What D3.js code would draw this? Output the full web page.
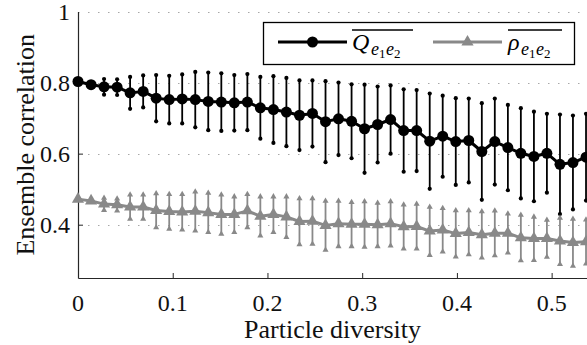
<!DOCTYPE html>
<html>
<head>
<meta charset="utf-8">
<script src="https://cdn.jsdelivr.net/npm/d3@7"></script>
<style>
  body { margin: 0; background: #fff; }
  svg { display: block; }
</style>
</head>
<body>
<svg id="chart" width="587" height="345"></svg>
<script>
// particle diversity values (x)
const diversity = [0, 0.0138, 0.0275, 0.0413, 0.055, 0.0688, 0.0825, 0.0963, 0.11, 0.1238,
  0.1375, 0.1513, 0.165, 0.1788, 0.1925, 0.2063, 0.22, 0.2338, 0.2475, 0.2613,
  0.275, 0.2888, 0.3025, 0.3163, 0.33, 0.3438, 0.3575, 0.3713, 0.385, 0.3988,
  0.4125, 0.4263, 0.44, 0.4538, 0.4675, 0.4813, 0.495, 0.5088, 0.5225, 0.5363];

// Q_e1e2 mean and error half-width
const qMean = [0.803, 0.794, 0.788, 0.787, 0.771, 0.775, 0.756, 0.752, 0.754, 0.752,
  0.747, 0.745, 0.743, 0.745, 0.729, 0.724, 0.717, 0.708, 0.713, 0.690,
  0.698, 0.691, 0.670, 0.682, 0.696, 0.665, 0.665, 0.635, 0.649, 0.634,
  0.637, 0.606, 0.634, 0.617, 0.601, 0.592, 0.601, 0.570, 0.575, 0.590];
const qErr = [0.0, 0.002, 0.022, 0.022, 0.045, 0.045, 0.065, 0.067, 0.069, 0.078,
  0.081, 0.081, 0.078, 0.079, 0.087, 0.094, 0.096, 0.098, 0.093, 0.114,
  0.102, 0.104, 0.124, 0.107, 0.096, 0.116, 0.114, 0.134, 0.114, 0.122,
  0.118, 0.136, 0.121, 0.120, 0.127, 0.126, 0.111, 0.140, 0.132, 0.122];

// rho_e1e2 mean and error half-width
const rhoMean = [0.472, 0.467, 0.458, 0.456, 0.450, 0.450, 0.440, 0.437, 0.436, 0.438,
  0.434, 0.429, 0.429, 0.439, 0.424, 0.429, 0.422, 0.409, 0.410, 0.398,
  0.403, 0.401, 0.401, 0.400, 0.403, 0.394, 0.395, 0.382, 0.385, 0.375,
  0.378, 0.372, 0.376, 0.376, 0.363, 0.361, 0.361, 0.354, 0.350, 0.352];
const rhoErr = [0.0, 0.003, 0.017, 0.017, 0.034, 0.034, 0.048, 0.049, 0.050, 0.055,
  0.055, 0.055, 0.050, 0.047, 0.055, 0.050, 0.057, 0.065, 0.064, 0.069,
  0.064, 0.062, 0.064, 0.061, 0.062, 0.062, 0.063, 0.068, 0.061, 0.065,
  0.062, 0.065, 0.063, 0.055, 0.064, 0.061, 0.052, 0.065, 0.066, 0.062];

const xTicks = [0, 0.1, 0.2, 0.3, 0.4, 0.5];
const xTickLabels = ["0", "0.1", "0.2", "0.3", "0.4", "0.5"];
const yTicks = [0.4, 0.6, 0.8, 1];
const yTickLabels = ["0.4", "0.6", "0.8", "1"];
const xLabel = "Particle diversity";
const yLabel = "Ensemble correlation";

const svg = d3.select("#chart");
const serif = "Liberation Serif";
const margin = { left: 78, top: 11.5, bottom: 67 };
const height = 345;

const x = d3.scaleLinear().domain([0, 0.55]).range([margin.left, margin.left + 521]);
const y = d3.scaleLinear().domain([0.25, 1]).range([height - margin.bottom, margin.top]);

const grey = "#898989";
const tickFont = 24;
const titleFont = 26;

// dotted grid
svg.append("g")
  .selectAll("line")
  .data(yTicks)
  .join("line")
  .attr("x1", margin.left)
  .attr("x2", 587)
  .attr("y1", d => Math.round(y(d)) + 0.5)
  .attr("y2", d => Math.round(y(d)) + 0.5)
  .attr("stroke", "#a8a8a8")
  .attr("stroke-width", 1)
  .attr("stroke-dasharray", "1.5 8.5");

// axes (lines and ticks only; labels drawn as plain texts below)
const xAxis = svg.append("g")
  .attr("transform", `translate(0,${y(0.25)})`)
  .call(d3.axisBottom(x).tickValues(xTicks).tickSizeInner(-5).tickSizeOuter(0).tickFormat(""));
const yAxis = svg.append("g")
  .attr("transform", `translate(${margin.left},0)`)
  .call(d3.axisLeft(y).tickValues(yTicks.filter(d => d < 1)).tickSizeInner(-5).tickSizeOuter(0).tickFormat(""));

[xAxis, yAxis].forEach(g => {
  g.select(".domain").attr("stroke", "#262626").attr("stroke-width", 1.2);
  g.selectAll(".tick line").attr("stroke", "#262626");
  g.selectAll(".tick text").remove();
});

// tick labels
xTicks.forEach((d, i) => {
  svg.append("text")
    .attr("x", x(d))
    .attr("y", 311)
    .attr("text-anchor", "middle")
    .attr("font-family", serif)
    .attr("font-size", tickFont)
    .attr("fill", "#111")
    .text(xTickLabels[i]);
});
yTicks.forEach((d, i) => {
  svg.append("text")
    .attr("x", 70)
    .attr("y", y(d) + 8)
    .attr("text-anchor", "end")
    .attr("font-family", serif)
    .attr("font-size", tickFont)
    .attr("fill", "#111")
    .text(yTickLabels[i]);
});

// axis titles
svg.append("text")
  .attr("x", (margin.left + 587) / 2)
  .attr("y", 338)
  .attr("text-anchor", "middle")
  .attr("font-family", serif)
  .attr("font-size", titleFont)
  .attr("fill", "#111")
  .text(xLabel);

svg.append("text")
  .attr("transform", `translate(34,${(y(0.25) + y(1)) / 2}) rotate(-90)`)
  .attr("text-anchor", "middle")
  .attr("font-family", serif)
  .attr("font-size", titleFont)
  .attr("fill", "#111")
  .text(yLabel);

// series
const series = [
  { mean: qMean, err: qErr, colour: "#000", marker: "circle" },
  { mean: rhoMean, err: rhoErr, colour: grey, marker: "triangle" }
];

const triangle = (size) => d3.symbol().type(d3.symbolTriangle).size(size)();

series.forEach(s => {
  const data = diversity.map((d, i) => ({ x: d, m: s.mean[i], e: s.err[i] }));
  const g = svg.append("g");

  // error bars
  g.selectAll(".bar")
    .data(data.filter(d => d.e > 0.004))
    .join("line")
    .attr("x1", d => x(d.x))
    .attr("x2", d => x(d.x))
    .attr("y1", d => y(d.m - d.e))
    .attr("y2", d => y(d.m + d.e))
    .attr("stroke", s.colour)
    .attr("stroke-width", 1.8);

  const ends = data.filter(d => d.e > 0.004).flatMap(d => [
    { x: d.x, v: d.m - d.e }, { x: d.x, v: d.m + d.e }
  ]);
  if (s.marker === "circle") {
    g.selectAll(".cap")
      .data(ends)
      .join("circle")
      .attr("cx", d => x(d.x))
      .attr("cy", d => y(d.v))
      .attr("r", 2.1)
      .attr("fill", s.colour);
  } else {
    g.selectAll(".cap")
      .data(ends)
      .join("path")
      .attr("transform", d => `translate(${x(d.x)},${y(d.v)})`)
      .attr("d", triangle(16))
      .attr("fill", s.colour);
  }

  // mean line
  g.append("path")
    .datum(data)
    .attr("fill", "none")
    .attr("stroke", s.colour)
    .attr("stroke-width", 3)
    .attr("stroke-linejoin", "round")
    .attr("d", d3.line().x(d => x(d.x)).y(d => y(d.m)));

  // markers
  if (s.marker === "circle") {
    g.selectAll(".pt")
      .data(data)
      .join("circle")
      .attr("cx", d => x(d.x))
      .attr("cy", d => y(d.m))
      .attr("r", 5.5)
      .attr("fill", s.colour);
  } else {
    g.selectAll(".pt")
      .data(data)
      .join("path")
      .attr("transform", d => `translate(${x(d.x)},${y(d.m)})`)
      .attr("d", triangle(64))
      .attr("fill", s.colour);
  }
});

// legend
svg.append("rect")
  .attr("x", 263.5).attr("y", 22.5)
  .attr("width", 311).attr("height", 42)
  .attr("fill", "#fff")
  .attr("stroke", "#000")
  .attr("stroke-width", 1.3);

const legendItems = [
  { x0: 278, colour: "#000", marker: "circle", sym: "Q", tx: 352, symW: 19, barW: 61 },
  { x0: 433, colour: grey, marker: "triangle", sym: "ρ", tx: 508, symW: 13, barW: 54 }
];
const ly = 42;
legendItems.forEach(it => {
  svg.append("line")
    .attr("x1", it.x0).attr("x2", it.x0 + 69)
    .attr("y1", ly).attr("y2", ly)
    .attr("stroke", it.colour).attr("stroke-width", 3);
  if (it.marker === "circle") {
    svg.append("circle").attr("cx", it.x0 + 34.5).attr("cy", ly).attr("r", 5.5).attr("fill", it.colour);
  } else {
    svg.append("path").attr("transform", `translate(${it.x0 + 34.5},${ly})`)
      .attr("d", triangle(64)).attr("fill", it.colour);
  }
  // symbol and subscripts as separate plain texts
  const parts = [
    { t: it.sym, dx: 0, dy: 0, fs: tickFont, italic: true },
    { t: "e", dx: it.symW, dy: 5, fs: 18, italic: true },
    { t: "1", dx: it.symW + 8, dy: 8, fs: 13, italic: false },
    { t: "e", dx: it.symW + 15, dy: 5, fs: 18, italic: true },
    { t: "2", dx: it.symW + 23, dy: 8, fs: 13, italic: false }
  ];
  parts.forEach(p => {
    svg.append("text")
      .attr("x", it.tx + p.dx)
      .attr("y", 50 + p.dy)
      .attr("font-family", serif)
      .attr("font-size", p.fs)
      .attr("font-style", p.italic ? "italic" : "normal")
      .attr("fill", "#000")
      .text(p.t);
  });
  // overline
  svg.append("line")
    .attr("x1", it.tx).attr("x2", it.tx + it.barW)
    .attr("y1", 30).attr("y2", 30)
    .attr("stroke", "#000").attr("stroke-width", 1.3);
});
</script>
</body>
</html>
